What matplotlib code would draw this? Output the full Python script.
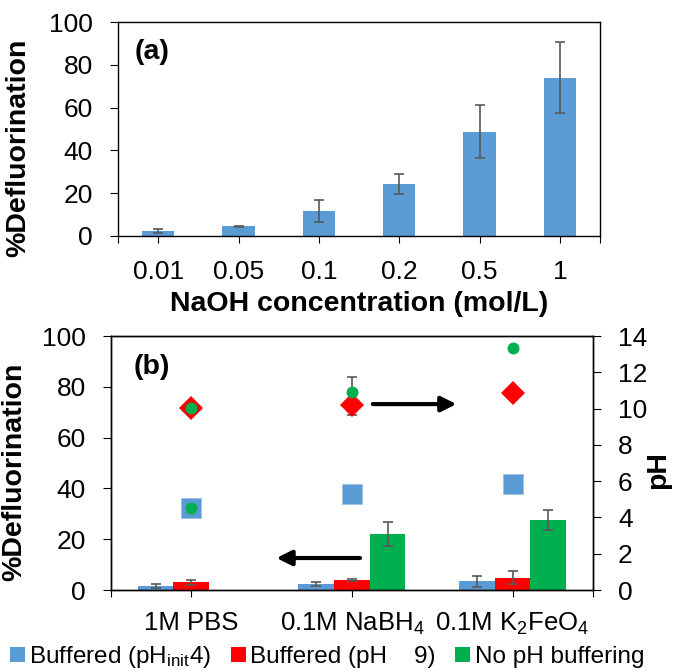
import matplotlib
matplotlib.use("Agg")
import matplotlib.pyplot as plt
import numpy as np

plt.rcParams['font.family'] = ['Liberation Sans', 'DejaVu Sans']
plt.rcParams['mathtext.fontset'] = 'custom'
plt.rcParams['mathtext.rm'] = 'Liberation Sans'
plt.rcParams['mathtext.it'] = 'Liberation Sans:italic'

# (a) defluorination vs NaOH concentration
naoh_conc = ['0.01', '0.05', '0.1', '0.2', '0.5', '1']
naoh_defl = [2.2, 4.5, 11.8, 24.3, 48.8, 74.0]
naoh_err = [1.0, 0.3, 5.1, 4.7, 12.2, 16.5]

# (b) defluorination and pH for the three reagents
reagents = ['1M PBS', r'0.1M NaBH$_4$', r'0.1M K$_2$FeO$_4$']
defl_init4 = [1.6, 2.4, 3.4]
defl_init4_err = [0.8, 0.65, 2.25]
defl_ph9 = [3.0, 3.9, 4.9]
defl_ph9_err = [0.9, 0.4, 2.6]
defl_nobuf = [np.nan, 22.0, 27.6]
defl_nobuf_err = [np.nan, 4.7, 4.1]

ph_init4 = [4.50, 5.32, 5.82]
ph_9 = [10.04, 10.22, 10.88]
ph_9_err = [0.0, 0.6, 0.0]
ph_nobuf_x = [0, 0, 1, 2]
ph_nobuf = [10.04, 4.50, 10.90, 13.36]
ph_nobuf_err = [0.0, 0.0, 0.84, 0.0]

blue = '#5B9BD5'
red = '#FF0000'
green = '#00B050'
errc = '#595959'

fig = plt.figure(figsize=(6.76, 6.71), dpi=100)
ax1 = fig.add_axes([0.1746, 0.6483, 0.713, 0.3189])
ax = fig.add_axes([0.1642, 0.1207, 0.713, 0.3785])
ax2 = ax.twinx()

tick_fs = 19
lab_fs = 20.5
ekw = dict(ecolor=errc, elinewidth=1.2, capthick=1.2)

# ---- (a)
x1 = np.arange(len(naoh_conc))
ax1.bar(x1, naoh_defl, 0.4, yerr=naoh_err, color=blue, capsize=3.5,
        error_kw=ekw, zorder=2)
ax1.set_xlim(-0.5, len(naoh_conc) - 0.5)
ax1.set_ylim(0, 100)
ax1.set_yticks(range(0, 101, 20))
ax1.set_xticks(x1)
ax1.set_xticks([-0.5, len(naoh_conc) - 0.5], minor=True)
ax1.set_xticklabels(naoh_conc)
ax1.tick_params(axis='x', which='both', length=5, width=0.8, pad=12,
                labelsize=tick_fs)
ax1.tick_params(axis='y', length=6, width=0.8, pad=12, labelsize=tick_fs)
ax1.set_xlabel('NaOH concentration (mol/L)', fontsize=lab_fs,
               fontweight='bold', labelpad=5)
ax1.set_ylabel('%Defluorination', fontsize=lab_fs, fontweight='bold')
ax1.yaxis.set_label_coords(-0.18, 0.41)
ax1.text(0.035, 0.86, '(a)', transform=ax1.transAxes, fontsize=lab_fs,
         fontweight='bold', va='center', ha='left')

# ---- (b)
x = np.arange(len(reagents))
w = 0.222
ax.bar(x - w, defl_init4, w, yerr=defl_init4_err, color=blue, capsize=3.5,
       error_kw=ekw, label=r'Buffered (pH$_{\mathregular{init}}$4)', zorder=2)
ax.bar(x, defl_ph9, w, yerr=defl_ph9_err, color=red, capsize=3.5,
       error_kw=ekw, label='Buffered (pH    9)', zorder=2)
ax.bar(x + w, defl_nobuf, w, yerr=defl_nobuf_err, color=green, capsize=3.5,
       error_kw=ekw, label='No pH buffering', zorder=2)
ax.set_xlim(-0.5, len(reagents) - 0.5)
ax.set_ylim(0, 100)
ax.set_yticks(range(0, 101, 20))
ax.set_xticks(x)
ax.set_xticks([-0.5, len(reagents) - 0.5], minor=True)
ax.set_xticklabels(reagents)
ax.tick_params(axis='x', which='both', length=5, width=0.8, pad=10,
               labelsize=tick_fs - 0.5)
ax.tick_params(axis='y', length=6, width=0.8, pad=12, labelsize=tick_fs)
ax.set_ylabel('%Defluorination', fontsize=lab_fs, fontweight='bold')
ax.yaxis.set_label_coords(-0.174, 0.465)
ax.text(0.046, 0.88, '(b)', transform=ax.transAxes, fontsize=lab_fs,
        fontweight='bold', va='center', ha='left')

# pH on the secondary axis
ax2.errorbar(x, ph_9, yerr=ph_9_err, fmt='none', capsize=3.5, **ekw,
             zorder=1)
ax2.errorbar(ph_nobuf_x, ph_nobuf, yerr=ph_nobuf_err, fmt='none',
             capsize=3.5, **ekw, zorder=1)
ax2.plot(x, ph_init4, 's', color=blue, ms=14.4, mec='#9DC3E6', mew=0.6,
         zorder=3)
ax2.plot(x, ph_9, 'D', color=red, ms=12.2, mew=0, zorder=3)
ax2.plot(ph_nobuf_x, ph_nobuf, 'o', color=green, ms=8.6, mew=0, zorder=4)
ax2.set_ylim(0, 14)
ax2.set_yticks(range(0, 15, 2))
ax2.tick_params(axis='y', length=6, width=0.8, pad=12, labelsize=tick_fs)
ax2.set_ylabel('pH', fontsize=lab_fs, fontweight='bold', rotation=90)
ax2.yaxis.set_label_coords(1.108, 0.472)

# arrows pointing to the relevant axis
ax.annotate('', xy=(1.65, 73.2), xytext=(1.13, 73.2),
            arrowprops=dict(arrowstyle='-|>,head_length=0.9,head_width=0.45',
                            lw=3, color='black', shrinkA=0, shrinkB=0))
ax.annotate('', xy=(0.53, 12.6), xytext=(1.05, 12.6),
            arrowprops=dict(arrowstyle='-|>,head_length=0.9,head_width=0.45',
                            lw=3, color='black', shrinkA=0, shrinkB=0))

for a in (ax1, ax, ax2):
    for s in a.spines.values():
        s.set_linewidth(1.0)

handles, labels = ax.get_legend_handles_labels()
fig.legend(handles, labels, loc='center left', bbox_to_anchor=(0.0148, 0.021),
           ncol=3, frameon=False, fontsize=17.5, handlelength=0.6,
           handleheight=0.6, handletextpad=0.2, columnspacing=0.8,
           borderpad=0, borderaxespad=0)

fig.savefig('out.png', dpi=100)
